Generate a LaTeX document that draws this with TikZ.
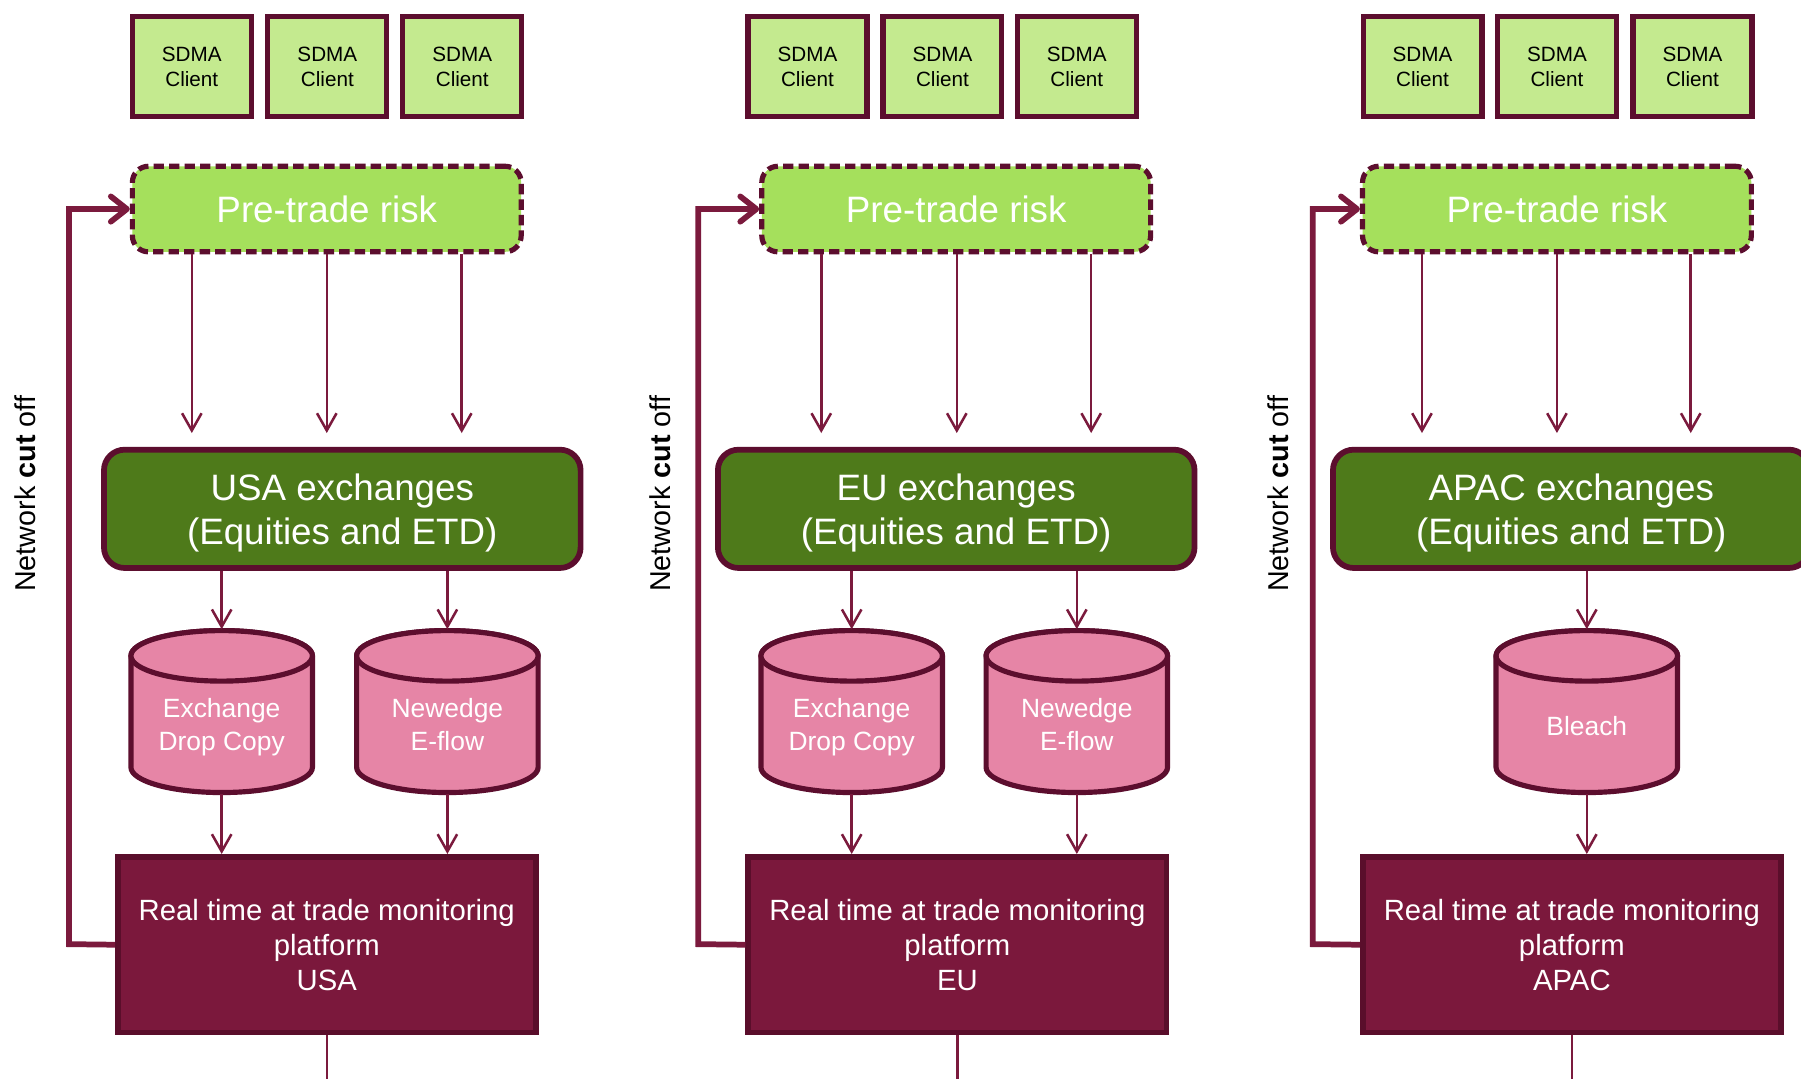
\documentclass[tikz,border=0pt]{standalone}
\usepackage{fontspec}
\setmainfont{Liberation Sans}
\usetikzlibrary{arrows.meta,calc}
\definecolor{bord}{HTML}{5C0E2E}
\definecolor{conncol}{HTML}{7B1A3D}
\definecolor{sdmafill}{HTML}{C4EA8F}
\definecolor{pregreen}{HTML}{A5E05C}
\definecolor{exgreen}{HTML}{4E7A1A}
\definecolor{cylfill}{HTML}{E685A6}
\definecolor{rtfill}{HTML}{7B183C}
\definecolor{rtbord}{HTML}{5A0E2B}
\newcommand\mkcyl[4]{%
  \draw[cylstyle] (#2-79,571) -- (#2-79,668) arc[start angle=180,end angle=360,x radius=79pt,y radius=22pt] -- (#2+79,571) arc[start angle=0,end angle=180,x radius=79pt,y radius=22pt] -- cycle;
  \draw[cylstyle] (#2,571) ellipse[x radius=79pt,y radius=22pt];
  \node[cylshape] (#1) at (#2,619.5) {};
  \node[cyltext] (#1t) at (#2,#3) {#4};
}
\begin{document}
\begin{tikzpicture}[x=1pt,y=-1pt,
  sdma/.style={draw=bord,fill=sdmafill,line width=4.5pt,minimum width=103.5pt,minimum height=87.5pt,inner sep=0pt,align=center,font=\fontsize{18}{22}\selectfont},
  pretrade/.style={draw=bord,fill=pregreen,line width=4.5pt,dash pattern=on 9pt off 4.5pt,rounded corners=14pt,minimum width=338.5pt,minimum height=74.5pt,inner sep=0pt,text=white,font=\fontsize{32}{38}\selectfont},
  exch/.style={draw=bord,fill=exgreen,line width=5pt,rounded corners=18pt,minimum width=415pt,minimum height=103pt,inner sep=0pt},
  exchtext/.style={align=center,text=white,inner sep=0pt,font=\fontsize{32}{38}\selectfont},
  rtbox/.style={draw=rtbord,fill=rtfill,line width=5pt,minimum width=364pt,minimum height=153pt,inner sep=0pt,align=center,text=white,font=\fontsize{25.5}{30.5}\selectfont},
  cylstyle/.style={draw=bord,fill=cylfill,line width=4.5pt},
  cylshape/.style={minimum width=158pt,minimum height=143pt,inner sep=0pt},
  cyltext/.style={align=center,text=white,inner sep=0pt,font=\fontsize{23}{28}\selectfont},
  cutlabel/.style={rotate=90,text=black,inner sep=0pt,font=\fontsize{25}{30}\selectfont},
  conn/.style={draw=conncol,line width=2.2pt,-{Straight Barb[length=15pt,width=17pt]}},
  plainline/.style={draw=conncol,line width=2.2pt},
  fb/.style={draw=conncol,line width=5pt,-{Straight Barb[length=14pt,width=22pt,round]}}
]
\clip (0,0) rectangle (1568,939);
\fill[white] (0,0) rectangle (1568,939);

% ================= USA =================
\node[sdma] (s11) at (167,58) {SDMA\\Client};
\node[sdma] (s12) at (285,58) {SDMA\\Client};
\node[sdma] (s13) at (402.5,58) {SDMA\\Client};
\node[pretrade] (p1) at (284.5,182) {Pre-trade risk};
\node[exch] (e1) at (298,443) {};
\node[exchtext] (e1t) at (298,447.4) {\strut USA exchanges\\\strut (Equities and ETD)};
\mkcyl{c11}{193}{633.4}{\strut Exchange\\\strut Drop Copy}
\mkcyl{c12}{389.5}{633.4}{\strut Newedge\\\strut E-flow}
\node[rtbox] (r1) at (284.5,822.5) {Real time at trade monitoring\\platform\\USA};
\node[cutlabel] (n1) at (22,430) {Network \textbf{cut} off};
\coordinate (f1) at (60,822);
\draw[fb] (r1.west) -- (f1) |- (p1.west);
\coordinate (a11) at (167,377);
\coordinate (a12) at (284.5,377);
\coordinate (a13) at (402,377);
\draw[conn] (p1.south -| a11) -- (a11);
\draw[conn] (p1.south -| a12) -- (a12);
\draw[conn] (p1.south -| a13) -- (a13);
\draw[conn] (e1.south -| c11.north) -- (c11.north);
\draw[conn] (e1.south -| c12.north) -- (c12.north);
\draw[conn] (c11.south) -- (r1.north -| c11.south);
\draw[conn] (c12.south) -- (r1.north -| c12.south);
\coordinate (b1) at (284.5,939);
\draw[plainline] (r1.south) -- (b1);

% ================= EU =================
\node[sdma] (s21) at (703,58) {SDMA\\Client};
\node[sdma] (s22) at (820.5,58) {SDMA\\Client};
\node[sdma] (s23) at (937.5,58) {SDMA\\Client};
\node[pretrade] (p2) at (832.5,182) {Pre-trade risk};
\node[exch] (e2) at (832.5,443) {};
\node[exchtext] (e2t) at (832.5,447.4) {\strut EU exchanges\\\strut (Equities and ETD)};
\mkcyl{c21}{741.5}{633.4}{\strut Exchange\\\strut Drop Copy}
\mkcyl{c22}{937.5}{633.4}{\strut Newedge\\\strut E-flow}
\node[rtbox] (r2) at (833.5,822.5) {Real time at trade monitoring\\platform\\EU};
\node[cutlabel] (n2) at (575,430) {Network \textbf{cut} off};
\coordinate (f2) at (608,822);
\draw[fb] (r2.west) -- (f2) |- (p2.west);
\coordinate (a21) at (715,377);
\coordinate (a22) at (833,377);
\coordinate (a23) at (950,377);
\draw[conn] (p2.south -| a21) -- (a21);
\draw[conn] (p2.south -| a22) -- (a22);
\draw[conn] (p2.south -| a23) -- (a23);
\draw[conn] (e2.south -| c21.north) -- (c21.north);
\draw[conn] (e2.south -| c22.north) -- (c22.north);
\draw[conn] (c21.south) -- (r2.north -| c21.south);
\draw[conn] (c22.south) -- (r2.north -| c22.south);
\coordinate (b2) at (833.5,939);
\draw[plainline] (r2.south) -- (b2);

% ================= APAC =================
\node[sdma] (s31) at (1238.5,58) {SDMA\\Client};
\node[sdma] (s32) at (1355.5,58) {SDMA\\Client};
\node[sdma] (s33) at (1473.5,58) {SDMA\\Client};
\node[pretrade] (p3) at (1355.5,182) {Pre-trade risk};
\node[exch] (e3) at (1368,443) {};
\node[exchtext] (e3t) at (1368,447.4) {\strut APAC exchanges\\\strut (Equities and ETD)};
\mkcyl{c31}{1381.5}{634.4}{\strut Bleach}
\node[rtbox] (r3) at (1368.5,822.5) {Real time at trade monitoring\\platform\\APAC};
\node[cutlabel] (n3) at (1113,430) {Network \textbf{cut} off};
\coordinate (f3) at (1143,822);
\draw[fb] (r3.west) -- (f3) |- (p3.west);
\coordinate (a31) at (1238,377);
\coordinate (a32) at (1355.5,377);
\coordinate (a33) at (1472,377);
\draw[conn] (p3.south -| a31) -- (a31);
\draw[conn] (p3.south -| a32) -- (a32);
\draw[conn] (p3.south -| a33) -- (a33);
\draw[conn] (e3.south -| c31.north) -- (c31.north);
\draw[conn] (c31.south) -- (r3.north -| c31.south);
\coordinate (b3) at (1368.5,939);
\draw[plainline] (r3.south) -- (b3);
\end{tikzpicture}
\end{document}
